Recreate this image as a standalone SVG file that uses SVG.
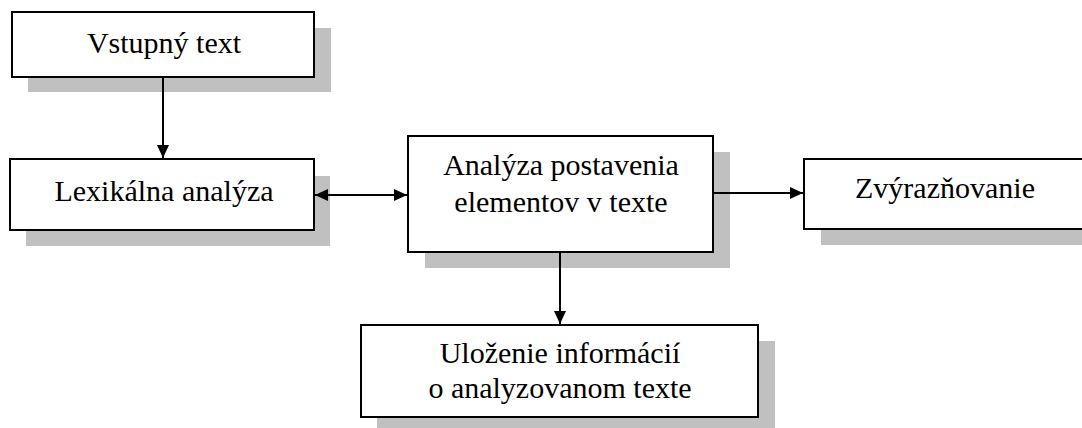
<svg xmlns="http://www.w3.org/2000/svg" width="1082" height="428" viewBox="0 0 1082 428">
<style>
.box{fill:#fff;stroke:#000;stroke-width:2}
.sh{fill:#c0c0c0}
.t{font-family:'Liberation Serif','Times New Roman','DejaVu Serif',serif;font-size:30px;fill:#000;text-anchor:middle}
.c{stroke:#000;stroke-width:2;fill:none}
</style>
<defs>
<marker id="ah" viewBox="0 0 13 12" refX="13" refY="6" markerWidth="13" markerHeight="12" markerUnits="userSpaceOnUse" orient="auto-start-reverse">
<path d="M0,0 L13,6 L0,12 Z" fill="#000"/>
</marker>
</defs>
<rect width="1082" height="428" fill="#fff"/>
<g id="n1">
<rect class="sh" x="28" y="28" width="303" height="64"/>
<rect class="box" x="12" y="12" width="302" height="65"/>
<text class="t" x="164" y="53">Vstupný text</text>
</g>
<g id="n2">
<rect class="sh" x="26" y="176" width="304" height="70"/>
<rect class="box" x="10" y="159" width="304" height="71"/>
<text class="t" x="164" y="201">Lexikálna analýza</text>
</g>
<g id="n3">
<rect class="sh" x="425" y="152" width="305" height="116"/>
<rect class="box" x="408" y="136" width="305" height="116"/>
<text class="t" x="561" y="175">Analýza postavenia</text>
<text class="t" x="561" y="212">elementov v texte</text>
</g>
<g id="n4">
<rect class="sh" x="377" y="341" width="398" height="90"/>
<rect class="box" x="361" y="325" width="397" height="92"/>
<text class="t" x="560" y="363">Uloženie informácií</text>
<text class="t" x="560" y="398">o analyzovanom texte</text>
</g>
<g id="n5">
<rect class="sh" x="821" y="175" width="280" height="70"/>
<rect class="box" x="804" y="159" width="281" height="70"/>
<text class="t" x="945" y="198">Zvýrazňovanie</text>
</g>
<g id="connectors">
<line class="c" x1="163" y1="77" x2="163" y2="158" marker-end="url(#ah)"/>
<line class="c" x1="315" y1="195" x2="407" y2="195" marker-start="url(#ah)" marker-end="url(#ah)"/>
<line class="c" x1="713" y1="193" x2="803" y2="193" marker-end="url(#ah)"/>
<line class="c" x1="560" y1="252" x2="560" y2="324" marker-end="url(#ah)"/>
</g>
</svg>
